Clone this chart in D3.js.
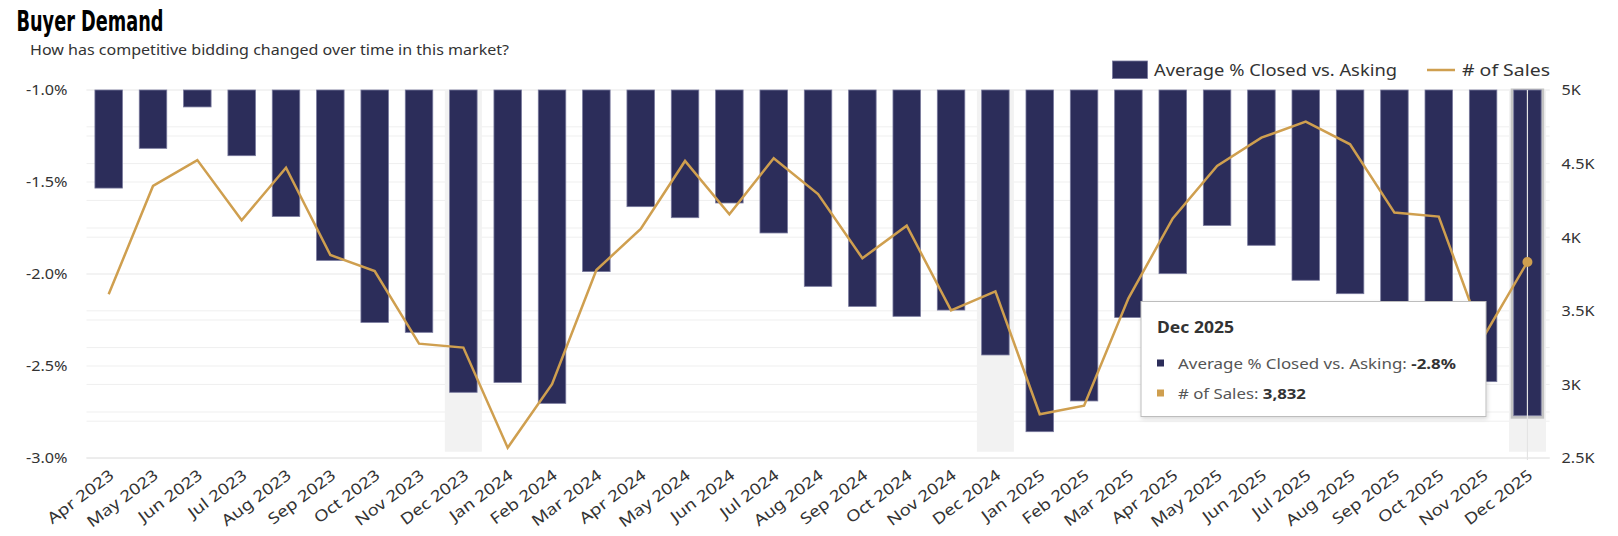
<!DOCTYPE html>
<html>
<head>
<meta charset="utf-8">
<script src="https://cdn.jsdelivr.net/npm/d3@7"></script>
<style>
  html, body { margin: 0; padding: 0; background: #fff; }
  svg { display: block; font-family: "Noto Sans", "Open Sans", sans-serif; }
</style>
</head>
<body>
<svg id="chart" width="1618" height="536"></svg>
<script>
const months = ["Apr 2023","May 2023","Jun 2023","Jul 2023","Aug 2023","Sep 2023","Oct 2023","Nov 2023","Dec 2023",
  "Jan 2024","Feb 2024","Mar 2024","Apr 2024","May 2024","Jun 2024","Jul 2024","Aug 2024","Sep 2024","Oct 2024","Nov 2024","Dec 2024",
  "Jan 2025","Feb 2025","Mar 2025","Apr 2025","May 2025","Jun 2025","Jul 2025","Aug 2025","Sep 2025","Oct 2025","Nov 2025","Dec 2025"];
const closedVsAsking = [-1.533,-1.317,-1.092,-1.357,-1.687,-1.926,-2.263,-2.317,-2.643,
  -2.589,-2.703,-1.987,-1.634,-1.694,-1.614,-1.777,-2.067,-2.176,-2.230,-2.196,-2.440,
  -2.857,-2.690,-2.236,-1.998,-1.736,-1.844,-2.034,-2.107,-2.35,-2.30,-2.585,-2.77];
const sales = [3612,4348,4524,4115,4472,3879,3770,3277,3250,
  2570,3001,3777,4056,4518,4156,4536,4293,3857,4078,3503,3632,
  2797,2855,3585,4128,4484,4676,4785,4631,4167,4140,3317,3832];
const leftTicks = [-1.0,-1.5,-2.0,-2.5,-3.0];
const leftTickLabels = ["-1.0%","-1.5%","-2.0%","-2.5%","-3.0%"];
const rightTicks = [5000,4500,4000,3500,3000,2500];
const rightTickLabels = ["5K","4.5K","4K","3.5K","3K","2.5K"];
const bandMonths = ["Dec 2023","Dec 2024","Dec 2025"];
const hoverMonth = "Dec 2025";
const seriesNames = ["Average % Closed vs. Asking", "# of Sales"];
const titleText = "Buyer Demand";
const subtitleText = "How has competitive bidding changed over time in this market?";

const BAR = "#2c2d5a", GOLD = "#cf9f4f", TXT = "#333";
const svg = d3.select("#chart");
const L = 86.5, R = 1549.6, T = 90, B = 458;

const x = d3.scaleBand().domain(months).range([L, R]).padding(0);
const yL = d3.scaleLinear().domain([-3.0, -1.0]).range([B, T]);
const yR = d3.scaleLinear().domain([2500, 5000]).range([B, T]);
const cx = m => x(m) + x.bandwidth() / 2;
const bw = x.bandwidth() * 0.62;

// stretch helper to mimic the wider original typeface
function stretch(sel, k) {
  sel.each(function() {
    const w = this.getComputedTextLength();
    d3.select(this).attr("textLength", w * k).attr("lengthAdjust", "spacingAndGlyphs");
  });
}

// defs
const defs = svg.append("defs");
const f = defs.append("filter").attr("id","shadow").attr("x","-10%").attr("y","-10%").attr("width","130%").attr("height","140%");
f.append("feDropShadow").attr("dx",1).attr("dy",2).attr("stdDeviation",2).attr("flood-color","#000").attr("flood-opacity",0.15);

// gridlines
const g = svg.append("g");
g.selectAll("line.gl").data(d3.range(-3.0, -0.99, 0.25)).join("line")
  .attr("x1", L).attr("x2", R).attr("y1", d => yL(d)).attr("y2", d => yL(d))
  .attr("stroke", "#efefef").attr("stroke-width", 1);
g.selectAll("line.gr").data(d3.range(2500, 5001, 250)).join("line")
  .attr("x1", L).attr("x2", R).attr("y1", d => yR(d)).attr("y2", d => yR(d))
  .attr("stroke", "#efefef").attr("stroke-width", 1);
g.append("line").attr("x1", L).attr("x2", R).attr("y1", B).attr("y2", B).attr("stroke", "#e6e6e6");

// year-end bands
svg.append("g").selectAll("rect").data(bandMonths).join("rect")
  .attr("x", d => cx(d) - 18.5).attr("width", 37)
  .attr("y", T).attr("height", yL(-2.966) - T)
  .attr("fill", "#f2f2f2");

// hover halo for highlighted bar
const hi = months.indexOf(hoverMonth);
svg.append("rect")
  .attr("x", cx(hoverMonth) - bw/2 - 1.5).attr("width", bw + 3)
  .attr("y", yL(-1.0)).attr("height", yL(closedVsAsking[hi]) - yL(-1.0) + 1.5)
  .attr("fill", "none").attr("stroke", "#c4c4c4").attr("stroke-width", 3);

// bars
svg.append("g").selectAll("rect").data(months).join("rect")
  .attr("x", d => cx(d) - bw/2).attr("width", bw)
  .attr("y", yL(-1.0))
  .attr("height", (d,i) => yL(closedVsAsking[i]) - yL(-1.0))
  .attr("fill", BAR).attr("stroke", "#77789c").attr("stroke-width", 0.8);

// crosshair
svg.append("line").attr("x1", cx(hoverMonth)).attr("x2", cx(hoverMonth))
  .attr("y1", T).attr("y2", B + 2).attr("stroke", "#e4e4e4").attr("stroke-width", 1.2);

// line
const line = d3.line().x((d,i) => cx(months[i])).y(d => yR(d));
svg.append("path").datum(sales).attr("d", line)
  .attr("fill", "none").attr("stroke", GOLD).attr("stroke-width", 2.5).attr("stroke-linejoin", "miter");
svg.append("circle").attr("cx", cx(hoverMonth)).attr("cy", yR(sales[hi])).attr("r", 5).attr("fill", GOLD);

// left axis
const axL = svg.append("g").attr("transform", `translate(${L - 16},0)`)
  .call(d3.axisLeft(yL).tickValues(leftTicks).tickFormat((d,i) => leftTickLabels[i]).tickSize(0));
axL.select(".domain").remove();
axL.selectAll("text").attr("font-size", 15).attr("fill", TXT).attr("font-family", '"Noto Sans", sans-serif');
stretch(axL.selectAll("text"), 1.08);

// right axis
const axR = svg.append("g").attr("transform", `translate(${R + 9},0)`)
  .call(d3.axisRight(yR).tickValues(rightTicks).tickFormat((d,i) => rightTickLabels[i]).tickSize(0));
axR.select(".domain").remove();
axR.selectAll("text").attr("font-size", 15).attr("fill", TXT).attr("font-family", '"Noto Sans", sans-serif');
stretch(axR.selectAll("text"), 1.08);

// x labels
const xl = svg.append("g").selectAll("text").data(months).join("text")
  .attr("transform", d => `translate(${cx(d) + 3},${B + 15}) rotate(-37)`)
  .attr("text-anchor", "end").attr("font-size", 15.5).attr("fill", TXT)
  .attr("dy", "0.35em")
  .text(d => d);
stretch(xl, 1.2);

// title & subtitle
svg.append("text").attr("x", 16.5).attr("y", 31)
  .attr("font-family", '"Liberation Sans Narrow", "DejaVu Sans Condensed", sans-serif')
  .attr("font-weight", "bold").attr("font-size", 28).attr("fill", "#000")
  .attr("textLength", 147).attr("lengthAdjust", "spacingAndGlyphs")
  .text(titleText);
svg.append("text").attr("x", 30).attr("y", 54.5)
  .attr("font-size", 14.5).attr("fill", TXT)
  .attr("textLength", 479).attr("lengthAdjust", "spacingAndGlyphs")
  .text(subtitleText);

// legend
const lg = svg.append("g");
lg.append("rect").attr("x", 1112.5).attr("y", 61).attr("width", 35).attr("height", 17.5)
  .attr("fill", BAR).attr("stroke", "#77789c").attr("stroke-width", 0.8);
lg.append("text").attr("x", 1154).attr("y", 70).attr("dy", "0.35em").attr("font-size", 16).attr("fill", TXT)
  .attr("textLength", 243).attr("lengthAdjust", "spacingAndGlyphs").text(seriesNames[0]);
lg.append("line").attr("x1", 1427).attr("x2", 1455).attr("y1", 70).attr("y2", 70)
  .attr("stroke", GOLD).attr("stroke-width", 2.5);
lg.append("text").attr("x", 1462).attr("y", 70).attr("dy", "0.35em").attr("font-size", 16).attr("fill", TXT)
  .attr("textLength", 88).attr("lengthAdjust", "spacingAndGlyphs").text(seriesNames[1]);

// tooltip
const fmtPct = v => v.toFixed(1) + "%";
const tt = svg.append("g").attr("transform", "translate(1141,301.5)");
tt.append("rect").attr("width", 345).attr("height", 115).attr("fill", "#fff")
  .attr("stroke", "#bdbdbd").attr("stroke-width", 1).attr("filter", "url(#shadow)");
tt.append("text").attr("x", 16).attr("y", 31).attr("font-size", 16).attr("font-weight", "bold")
  .attr("fill", TXT).attr("textLength", 77).attr("lengthAdjust", "spacingAndGlyphs").text(hoverMonth);
tt.append("rect").attr("x", 16).attr("y", 58).attr("width", 7).attr("height", 7).attr("fill", BAR);
const r1 = tt.append("text").attr("x", 37).attr("y", 67).attr("font-size", 15).attr("fill", "#555")
  .attr("textLength", 278).attr("lengthAdjust", "spacingAndGlyphs");
r1.append("tspan").text(seriesNames[0] + ": ");
r1.append("tspan").attr("font-weight", "bold").attr("fill", TXT).text(fmtPct(closedVsAsking[hi]));
tt.append("rect").attr("x", 16).attr("y", 88).attr("width", 7).attr("height", 7).attr("fill", GOLD);
const r2 = tt.append("text").attr("x", 37).attr("y", 97).attr("font-size", 15).attr("fill", "#555")
  .attr("textLength", 128).attr("lengthAdjust", "spacingAndGlyphs");
r2.append("tspan").text(seriesNames[1] + ": ");
r2.append("tspan").attr("font-weight", "bold").attr("fill", TXT).text(d3.format(",")(sales[hi]));
</script>
</body>
</html>
